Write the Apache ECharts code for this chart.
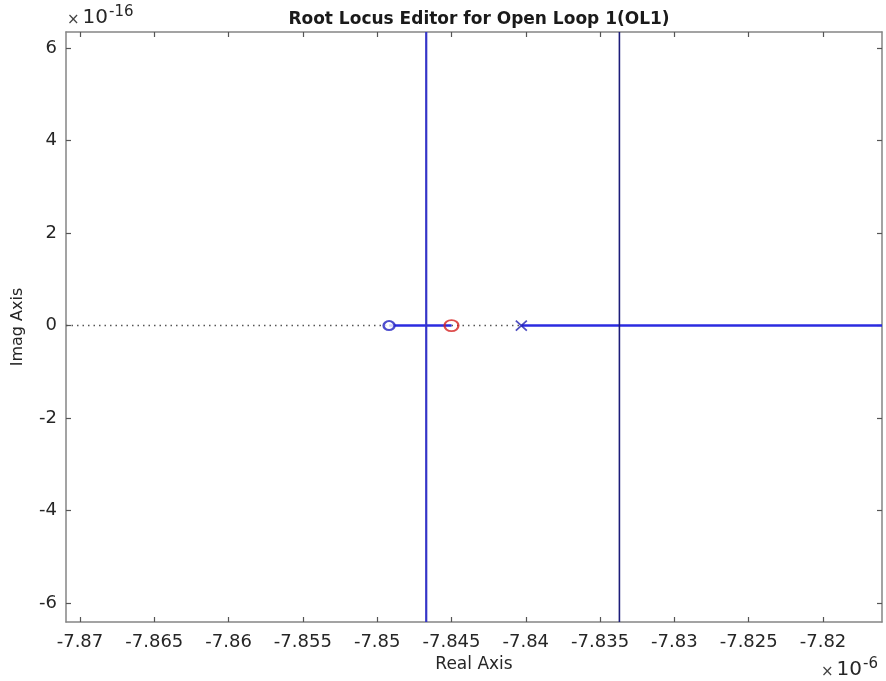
<!DOCTYPE html>
<html>
<head>
<meta charset="utf-8">
<script src="https://cdn.jsdelivr.net/npm/echarts@6/dist/echarts.min.js"></script>
<style>
  html, body { margin: 0; padding: 0; background: #ffffff; }
  #chart { width: 886px; height: 681px; }
</style>
</head>
<body>
<div id="chart"></div>
<script>
// Real axis in units of 1e-6, imaginary axis in units of 1e-16
const realRange = [-7.87094, -7.81603];
const imagRange = [-6.41, 6.35];
const realTicks = [-7.87, -7.865, -7.86, -7.855, -7.85, -7.845, -7.84, -7.835, -7.83, -7.825, -7.82];
const imagTicks = [-6, -4, -2, 0, 2, 4, 6];

// Open-loop zeros and pole (on the real axis)
const blueZeros = [-7.8492];
const redZeros = [-7.8450];
const poles = [-7.8403];

// Vertical locus branches (real part where branches leave the axis)
const branchReal = [-7.8467, -7.8337];
const branchColors = ['#3535c8', '#1c1c7a'];

// Real-axis locus segments: [start, end]
const solidReal = [[blueZeros[0], redZeros[0]], [poles[0], realRange[1]]];
const dottedReal = [[realRange[0], blueZeros[0]], [redZeros[0], poles[0]]];

const FONT = '"DejaVu Sans", "Liberation Sans", Arial, sans-serif';
const axisGrey = '#858585';
const textColor = '#262626';

function fmtReal(v) { return String(+(+v).toFixed(3)); }

function segSeries(segs, style, z) {
  return segs.map(s => ({
    type: 'line',
    data: [[s[0], 0], [s[1], 0]],
    symbol: 'none',
    lineStyle: style,
    silent: true,
    z: z,
    animation: false
  }));
}

const series = [];
series.push(...segSeries(dottedReal, { color: '#555555', width: 1.5, type: [1.5, 4] }, 2));
series.push(...segSeries(solidReal, { color: '#2b2be0', width: 2.5 }, 3));
branchReal.forEach((r, i) => {
  series.push({
    type: 'line',
    data: [[r, imagRange[0]], [r, imagRange[1]]],
    symbol: 'none',
    lineStyle: { color: branchColors[i], width: i === 0 ? 2.2 : 1.6 },
    silent: true, z: 3, animation: false
  });
});
series.push({
  type: 'scatter',
  data: blueZeros.map(r => [r, 0]),
  symbol: 'circle', symbolSize: [11, 9],
  itemStyle: { color: '#ffffff', borderColor: '#2020c0', borderWidth: 2.2 },
  z: 5, animation: false
});
series.push({
  type: 'scatter',
  data: redZeros.map(r => [r, 0]),
  symbol: 'circle', symbolSize: [14, 11],
  itemStyle: { color: 'rgba(255,255,255,0)', borderColor: '#d42020', borderWidth: 2 },
  z: 5, animation: false
});
series.push({
  type: 'scatter',
  data: poles.map(r => [r, 0]),
  symbol: 'path://M0,0L10,10M10,0L0,10', symbolSize: [11, 10],
  itemStyle: { color: 'rgba(0,0,0,0)', borderColor: '#2020b0', borderWidth: 1.6 },
  z: 5, animation: false
});

function xAxisDef(pos, showLabels) {
  return {
    type: 'value', position: pos,
    min: realRange[0], max: realRange[1],
    splitLine: { show: false },
    axisLine: { show: true, onZero: false, lineStyle: { color: axisGrey, width: 1.5 } },
    axisTick: { show: true, inside: true, length: 5, customValues: realTicks, lineStyle: { color: '#555555', width: 1.2 } },
    axisLabel: { show: showLabels, customValues: realTicks, formatter: fmtReal, color: textColor, fontFamily: FONT, fontSize: 18, margin: 11 },
    name: showLabels ? 'Real Axis' : '',
    nameLocation: 'middle', nameGap: 34,
    nameTextStyle: { color: textColor, fontFamily: FONT, fontSize: 17 }
  };
}
function yAxisDef(pos, showLabels) {
  return {
    type: 'value', position: pos,
    min: imagRange[0], max: imagRange[1],
    splitLine: { show: false },
    axisLine: { show: true, onZero: false, lineStyle: { color: axisGrey, width: 1.5 } },
    axisTick: { show: true, inside: true, length: 5, customValues: imagTicks, lineStyle: { color: '#555555', width: 1.2 } },
    axisLabel: { show: showLabels, customValues: imagTicks, color: textColor, fontFamily: FONT, fontSize: 18, margin: 9 },
    name: showLabels ? 'Imag Axis' : '',
    nameLocation: 'middle', nameGap: 40, nameRotate: 90,
    nameTextStyle: { color: textColor, fontFamily: FONT, fontSize: 16 }
  };
}

const expRich = {
  m: { fontFamily: FONT, fontSize: 15, fill: '#444444', verticalAlign: 'bottom', padding: [0, 3, 0, 0] },
  b: { fontFamily: FONT, fontSize: 20, fill: textColor, verticalAlign: 'bottom' },
  s: { fontFamily: FONT, fontSize: 15, fill: textColor, verticalAlign: 'top', padding: [0, 0, 8, 1] }
};

const chart = echarts.init(document.getElementById('chart'), null, { renderer: 'canvas' });
chart.setOption({
  backgroundColor: '#ffffff',
  animation: false,
  title: {
    text: 'Root Locus Editor for Open Loop 1(OL1)',
    left: 474, top: 6, textAlign: 'center',
    textStyle: { fontFamily: FONT, fontSize: 17, fontWeight: 'bold', color: '#1a1a1a' }
  },
  grid: { left: 66, right: 4, top: 32, bottom: 59, containLabel: false },
  xAxis: [xAxisDef('bottom', true), xAxisDef('top', false)],
  yAxis: [yAxisDef('left', true), yAxisDef('right', false)],
  series: series,
  graphic: [
    { type: 'text', left: 67, top: 5, style: { text: '{m|×}{b|10}{s|-16}', rich: expRich } },
    { type: 'text', left: 821, top: 657, style: { text: '{m|×}{b|10}{s|-6}', rich: expRich } }
  ]
});
</script>
</body>
</html>
